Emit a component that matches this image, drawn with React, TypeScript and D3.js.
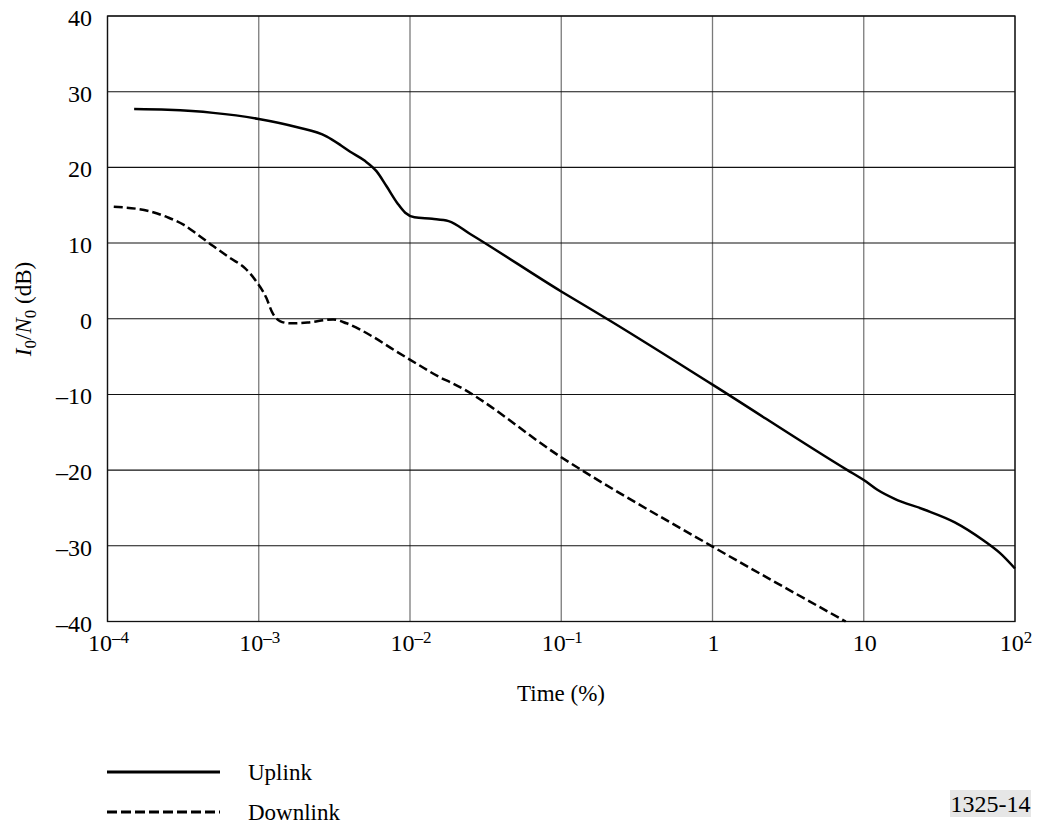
import React, { useRef, useEffect } from "react"
import * as d3 from "d3"

// time (%) and I0/N0 (dB)
const uplinkTime = [
  1.5e-4, 2.5e-4, 5e-4, 1e-3, 1.8e-3, 2.8e-3, 3.5e-3, 4e-3, 5e-3, 6e-3, 7e-3, 8.3e-3, 9.3e-3,
  1.07e-2, 1.4e-2, 1.8e-2, 2.5e-2, 0.1, 0.2, 1, 7.8, 10, 12.3, 16, 25, 40, 62, 80, 100
]
const uplinkValue = [
  27.7, 27.6, 27.2, 26.4, 25.3, 24.1, 22.9, 22.1, 20.9, 19.5, 17.5, 15.2, 14.0,
  13.4, 13.2, 12.9, 11.2, 3.6, 0, -8.7, -20, -21.3, -22.6, -23.8, -25.2, -26.9, -29.3, -31.0, -33.0
]

const downlinkTime = [
  1.1e-4, 1.9e-4, 2.5e-4, 3.2e-4, 3.9e-4, 5e-4, 6.5e-4, 8.1e-4, 9.5e-4, 1.12e-3, 1.23e-3,
  1.38e-3, 1.6e-3, 2.1e-3, 3.1e-3, 3.8e-3, 5.6e-3, 7.8e-3, 1.12e-2, 1.6e-2, 1.9e-2, 0.1, 1, 7.6
]
const downlinkValue = [
  14.8, 14.2, 13.4, 12.4, 11.2, 9.6, 8.0, 6.7, 5.1, 2.8, 0.8,
  -0.3, -0.6, -0.5, -0.1, -0.6, -2.3, -4.1, -6.0, -7.8, -8.5, -18.3, -30.1, -40
]

const xTicks = [1e-4, 1e-3, 1e-2, 1e-1, 1, 10, 100]
const xTickBase = ["10", "10", "10", "10", "1", "10", "10"]
const xTickExp = ["\u20134", "\u20133", "\u20132", "\u20131", "", "", "2"]
const yTicks = [-40, -30, -20, -10, 0, 10, 20, 30, 40]

const series = [
  { name: "Uplink", time: uplinkTime, value: uplinkValue, dash: null },
  { name: "Downlink", time: downlinkTime, value: downlinkValue, dash: "9,4" }
]

const App = () => {
  const svgRef = useRef(null)

  useEffect(() => {
    const svg = d3.select(svgRef.current)
    svg.selectAll("*").remove()

    const left = 107.5
    const right = 1015
    const top = 16
    const bottom = 621.5
    const font = "'Liberation Serif', 'Times New Roman', serif"

    const x = d3.scaleLog().domain([1e-4, 100]).range([left, right])
    const y = d3.scaleLinear().domain([-40, 40]).range([bottom, top])

    const g = svg.append("g")

    // vertical grid
    g.selectAll(".vgrid")
      .data(xTicks)
      .enter()
      .append("line")
      .attr("x1", (d) => x(d))
      .attr("x2", (d) => x(d))
      .attr("y1", top)
      .attr("y2", bottom)
      .attr("stroke", "#7a7a7a")
      .attr("stroke-width", 1.3)

    // horizontal grid
    g.selectAll(".hgrid")
      .data(yTicks)
      .enter()
      .append("line")
      .attr("x1", left)
      .attr("x2", right)
      .attr("y1", (d) => y(d))
      .attr("y2", (d) => y(d))
      .attr("stroke", "#111")
      .attr("stroke-width", 1.1)

    g.append("rect")
      .attr("x", left)
      .attr("y", top)
      .attr("width", right - left)
      .attr("height", bottom - top)
      .attr("fill", "none")
      .attr("stroke", "#111")
      .attr("stroke-width", 1.3)

    // y tick labels
    g.selectAll(".ylab")
      .data(yTicks)
      .enter()
      .append("text")
      .attr("x", 92)
      .attr("y", (d) => y(d) + 10)
      .attr("text-anchor", "end")
      .attr("font-family", font)
      .attr("font-size", 24)
      .text((d) => (d < 0 ? "\u2013" + Math.abs(d) : String(d)))

    // x tick labels
    const xl = g.selectAll(".xlab")
      .data(xTicks)
      .enter()
      .append("text")
      .attr("x", (d) => x(d) + 1)
      .attr("y", 651)
      .attr("text-anchor", "middle")
      .attr("font-family", font)
      .attr("font-size", 24)
    xl.append("tspan").text((d, i) => xTickBase[i])
    xl.append("tspan")
      .attr("dy", -8)
      .attr("font-size", 17)
      .text((d, i) => xTickExp[i])

    g.append("text")
      .attr("x", 561)
      .attr("y", 701)
      .attr("text-anchor", "middle")
      .attr("font-family", font)
      .attr("font-size", 23)
      .text("Time (%)")

    // y axis title
    const yt = g.append("text")
      .attr("transform", "translate(31,309) rotate(-90)")
      .attr("text-anchor", "middle")
      .attr("font-family", font)
      .attr("font-size", 23)
    yt.append("tspan").attr("font-style", "italic").text("I")
    yt.append("tspan").attr("dy", 5).attr("font-size", 17).text("0")
    yt.append("tspan").attr("dy", -5).text("/")
    yt.append("tspan").attr("font-style", "italic").text("N")
    yt.append("tspan").attr("dy", 5).attr("font-size", 17).text("0")
    yt.append("tspan").attr("dy", -5).text(" (dB)")

    const line = d3
      .line()
      .x((d) => x(d[0]))
      .y((d) => y(d[1]))
      .curve(d3.curveMonotoneX)

    series.forEach((s) => {
      const pts = s.time.map((t, i) => [t, s.value[i]])
      g.append("path")
        .attr("d", line(pts))
        .attr("fill", "none")
        .attr("stroke", "#000")
        .attr("stroke-width", 2.5)
        .attr("stroke-dasharray", s.dash)
    })

    // legend
    series.forEach((s, i) => {
      const ly = 772 + i * 40
      g.append("line")
        .attr("x1", 107)
        .attr("x2", 220)
        .attr("y1", ly)
        .attr("y2", ly)
        .attr("stroke", "#000")
        .attr("stroke-width", 3)
        .attr("stroke-dasharray", s.dash ? "10,4" : null)
      g.append("text")
        .attr("x", 248)
        .attr("y", ly + 8)
        .attr("font-family", font)
        .attr("font-size", 23)
        .text(s.name)
    })

    g.append("rect")
      .attr("x", 950)
      .attr("y", 790)
      .attr("width", 81)
      .attr("height", 27)
      .attr("fill", "#e6e6e6")
    g.append("text")
      .attr("x", 990.5)
      .attr("y", 812)
      .attr("text-anchor", "middle")
      .attr("font-family", font)
      .attr("font-size", 24)
      .text("1325-14")
  }, [])

  return (
    <div style={{ position: "absolute", left: 0, top: 0 }}>
      <svg ref={svgRef} width={1038} height={827} style={{ display: "block", background: "#fff" }}></svg>
    </div>
  )
}

export default App
